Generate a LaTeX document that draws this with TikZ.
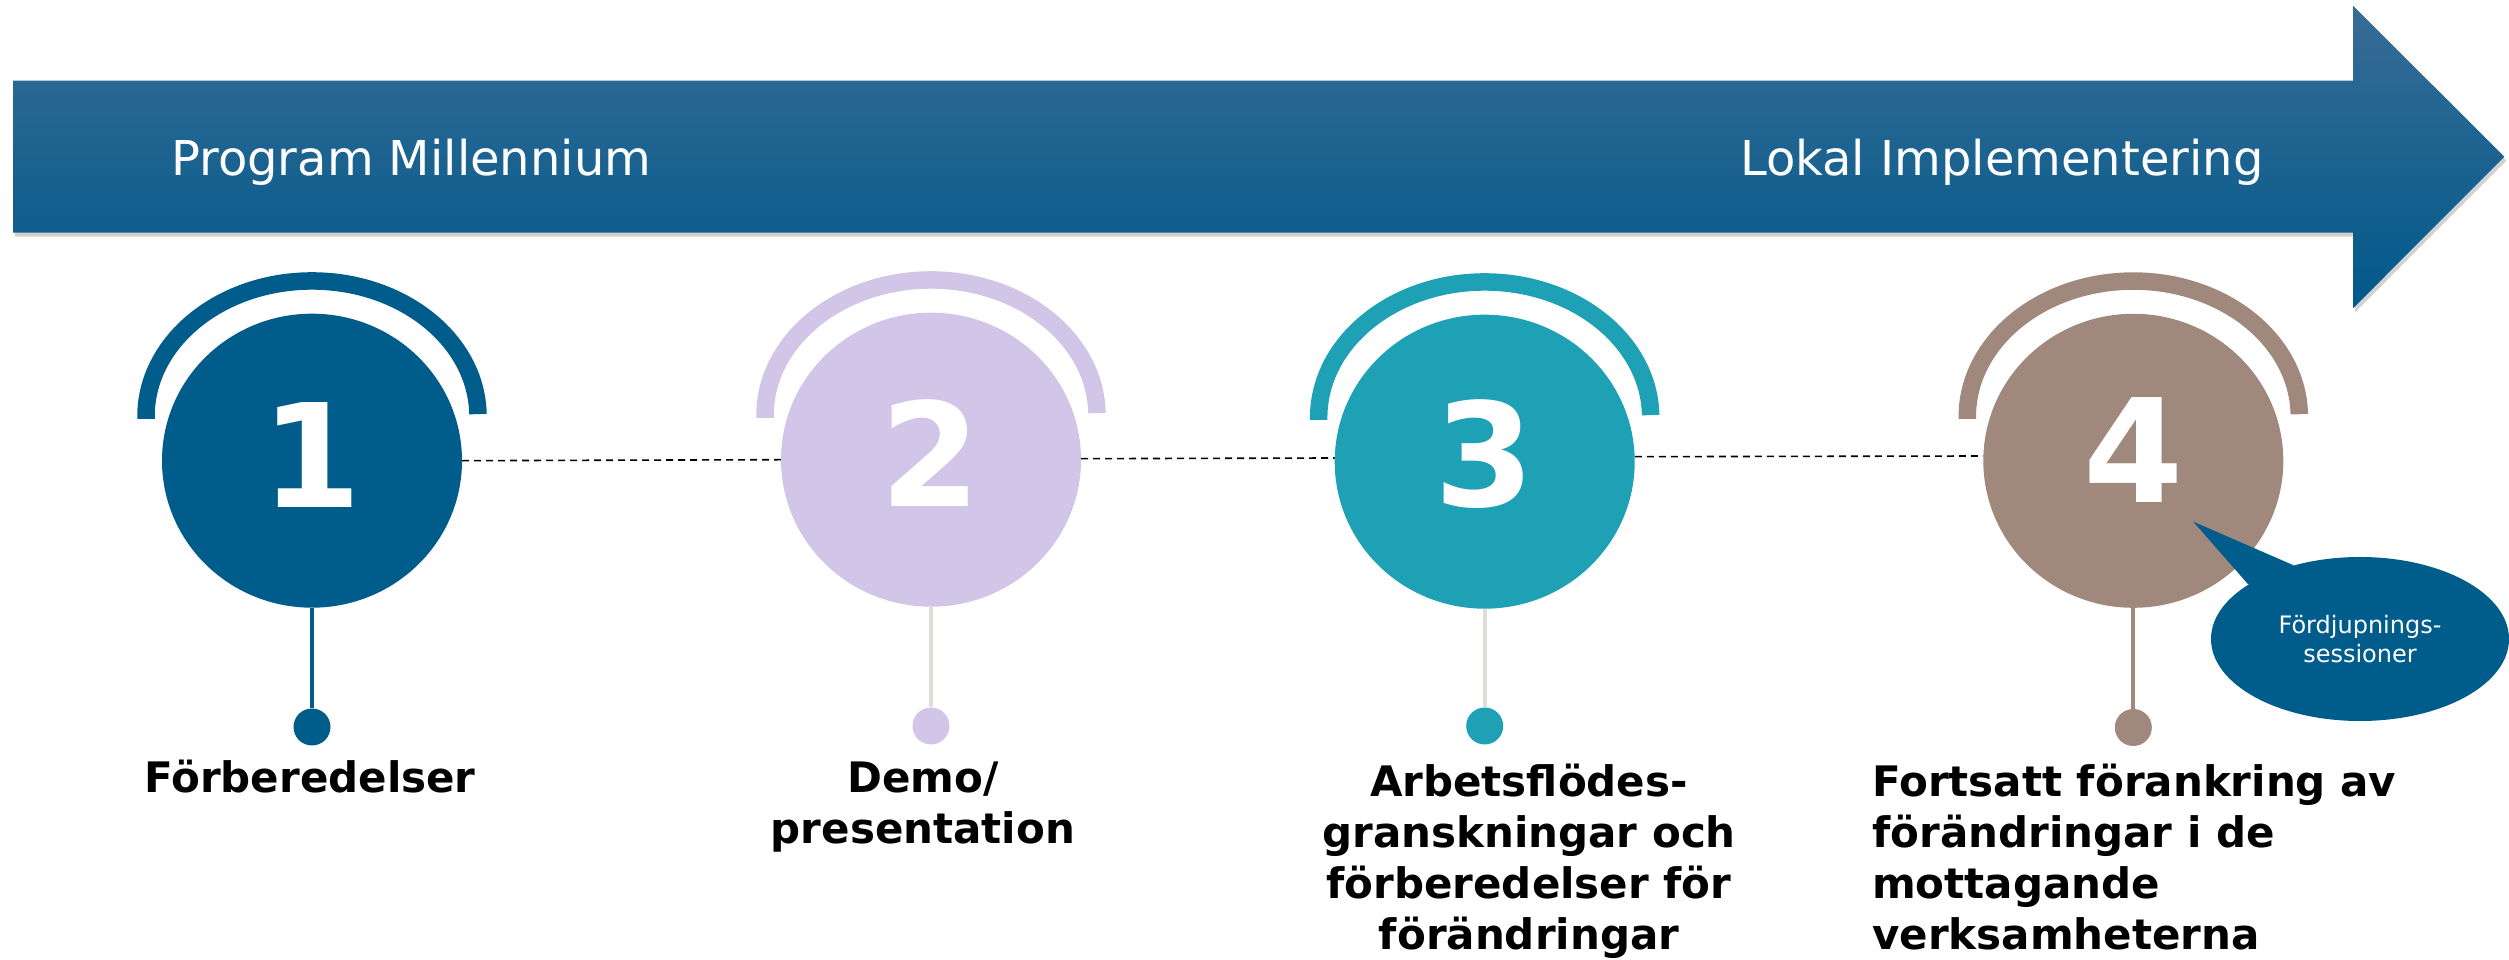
\documentclass[tikz,border=0pt]{standalone}
\usepackage{fontspec}
\setmainfont{DejaVu Sans}
\usetikzlibrary{shapes.geometric,shadows,calc}
\definecolor{mblue}{RGB}{0,92,138}
\definecolor{lav}{RGB}{209,197,232}
\definecolor{tealc}{RGB}{30,161,181}
\definecolor{taupe}{RGB}{160,136,125}
\definecolor{stemgrey}{RGB}{224,220,218}
\definecolor{arrtop}{RGB}{56,108,150}
\definecolor{arrmid}{RGB}{0,91,140}
\definecolor{arrbot}{RGB}{0,89,138}
\begin{document}
\begin{tikzpicture}[x=1pt,y=1pt,
  stepcircle/.style={ellipse, minimum width=300pt, minimum height=294pt, inner sep=0pt, draw=none},
  numtxt/.style={text=white, font=\fontsize{144}{144}\selectfont\bfseries, inner sep=0pt},
  halo/.style={line width=17.5pt},
  stem/.style={line width=4.3pt},
  enddot/.style={circle, minimum size=37pt, inner sep=0pt},
  lbl/.style={font=\fontsize{42}{51}\selectfont\bfseries, text=black, inner sep=0pt, align=center, anchor=base},
  conn/.style={draw=black, line width=1.6pt, dash pattern=on 7pt off 5pt},
  head/.style={text=white, font=\fontsize{48}{56}\selectfont, inner sep=0pt, anchor=base west}
]
\useasboundingbox (0,0) rectangle (2509,960);

% big arrow
\shade[top color=arrtop, middle color=arrmid, bottom color=arrbot,
  drop shadow={shadow xshift=2pt, shadow yshift=-4pt, opacity=0.18, fill=black}]
  (13,727.3) -- (13,879.3) -- (2353,879.3) -- (2353,954.3) -- (2504.3,803.3)
  -- (2353,651.7) -- (2353,727.3) -- cycle;
\node[head] (h1) at (171,784) {Program Millennium};
\node[head] (h2) at (1740,784) {Lokal Implementering};

% circles
\node[stepcircle, fill=mblue] (c1) at (312,499.3) {};
\node[stepcircle, fill=lav]   (c2) at (931,500.3) {};
\node[stepcircle, fill=tealc] (c3) at (1484.7,498.3) {};
\node[stepcircle, fill=taupe] (c4) at (2133.3,499.2) {};

\node[numtxt] (n1) at ([yshift=6pt]c1.center) {1};
\node[numtxt] (n2) at ([yshift=7pt]c2.center) {2};
\node[numtxt] (n3) at ([yshift=8pt]c3.center) {3};
\node[numtxt] (n4) at ([yshift=11pt]c4.center) {4};

% halo arcs
\draw[halo, draw=mblue]  ([shift={(165.97,46.6)}]c1.center) arc[start angle=1, end angle=181, x radius=166pt, y radius=135.5pt];
\draw[halo, draw=lav]    ([shift={(165.97,46.6)}]c2.center) arc[start angle=1, end angle=181, x radius=166pt, y radius=135.5pt];
\draw[halo, draw=tealc]  ([shift={(165.97,46.6)}]c3.center) arc[start angle=1, end angle=181, x radius=166pt, y radius=135.5pt];
\draw[halo, draw=taupe]  ([shift={(165.97,46.6)}]c4.center) arc[start angle=1, end angle=181, x radius=166pt, y radius=135.5pt];

% dashed connectors
\draw[conn] (c1.east) -- (c2.west);
\draw[conn] ([yshift=1pt]c2.east) -- ([yshift=3.7pt]c3.west);
\draw[conn] ([yshift=5pt]c3.east) -- ([yshift=4.8pt]c4.west);

% dots and stems
\node[enddot, fill=mblue] (d1) at (312,233) {};
\node[enddot, fill=lav]   (d2) at (931,234) {};
\node[enddot, fill=tealc] (d3) at (1484.7,234) {};
\node[enddot, fill=taupe] (d4) at (2133.3,232.5) {};
\draw[stem, draw=mblue]    (c1.south) -- (d1.north);
\draw[stem, draw=stemgrey] (c2.south) -- (d2.north);
\draw[stem, draw=stemgrey] (c3.south) -- (d3.north);
\draw[stem, draw=taupe]    (c4.south) -- (d4.north);

% labels (base anchor = baseline of the last line)
\node[lbl] (l1) at (310,167) {Förberedelser};
\node[lbl] (l2) at (923,116) {Demo/\\presentation};
\node[lbl] (l3) at (1529,10) {Arbetsflödes-\\granskningar och\\förberedelser för\\förändringar};
\node[lbl, align=left, anchor=base west] (l4) at (1872,10) {Fortsatt förankring av\\förändringar i de\\mottagande\\verksamheterna};

% callout
\node[ellipse, fill=mblue, minimum width=298pt, minimum height=164pt, inner sep=0pt,
  text=white, align=center, font=\fontsize{24}{28.5}\selectfont] (cb) at (2360,321) {Fördjupnings-\\sessioner};
\coordinate (tip) at (2193.3,438.3);
\fill[mblue] (tip) -- (cb.154.6) -- (cb.132.4) -- cycle;
\end{tikzpicture}
\end{document}
